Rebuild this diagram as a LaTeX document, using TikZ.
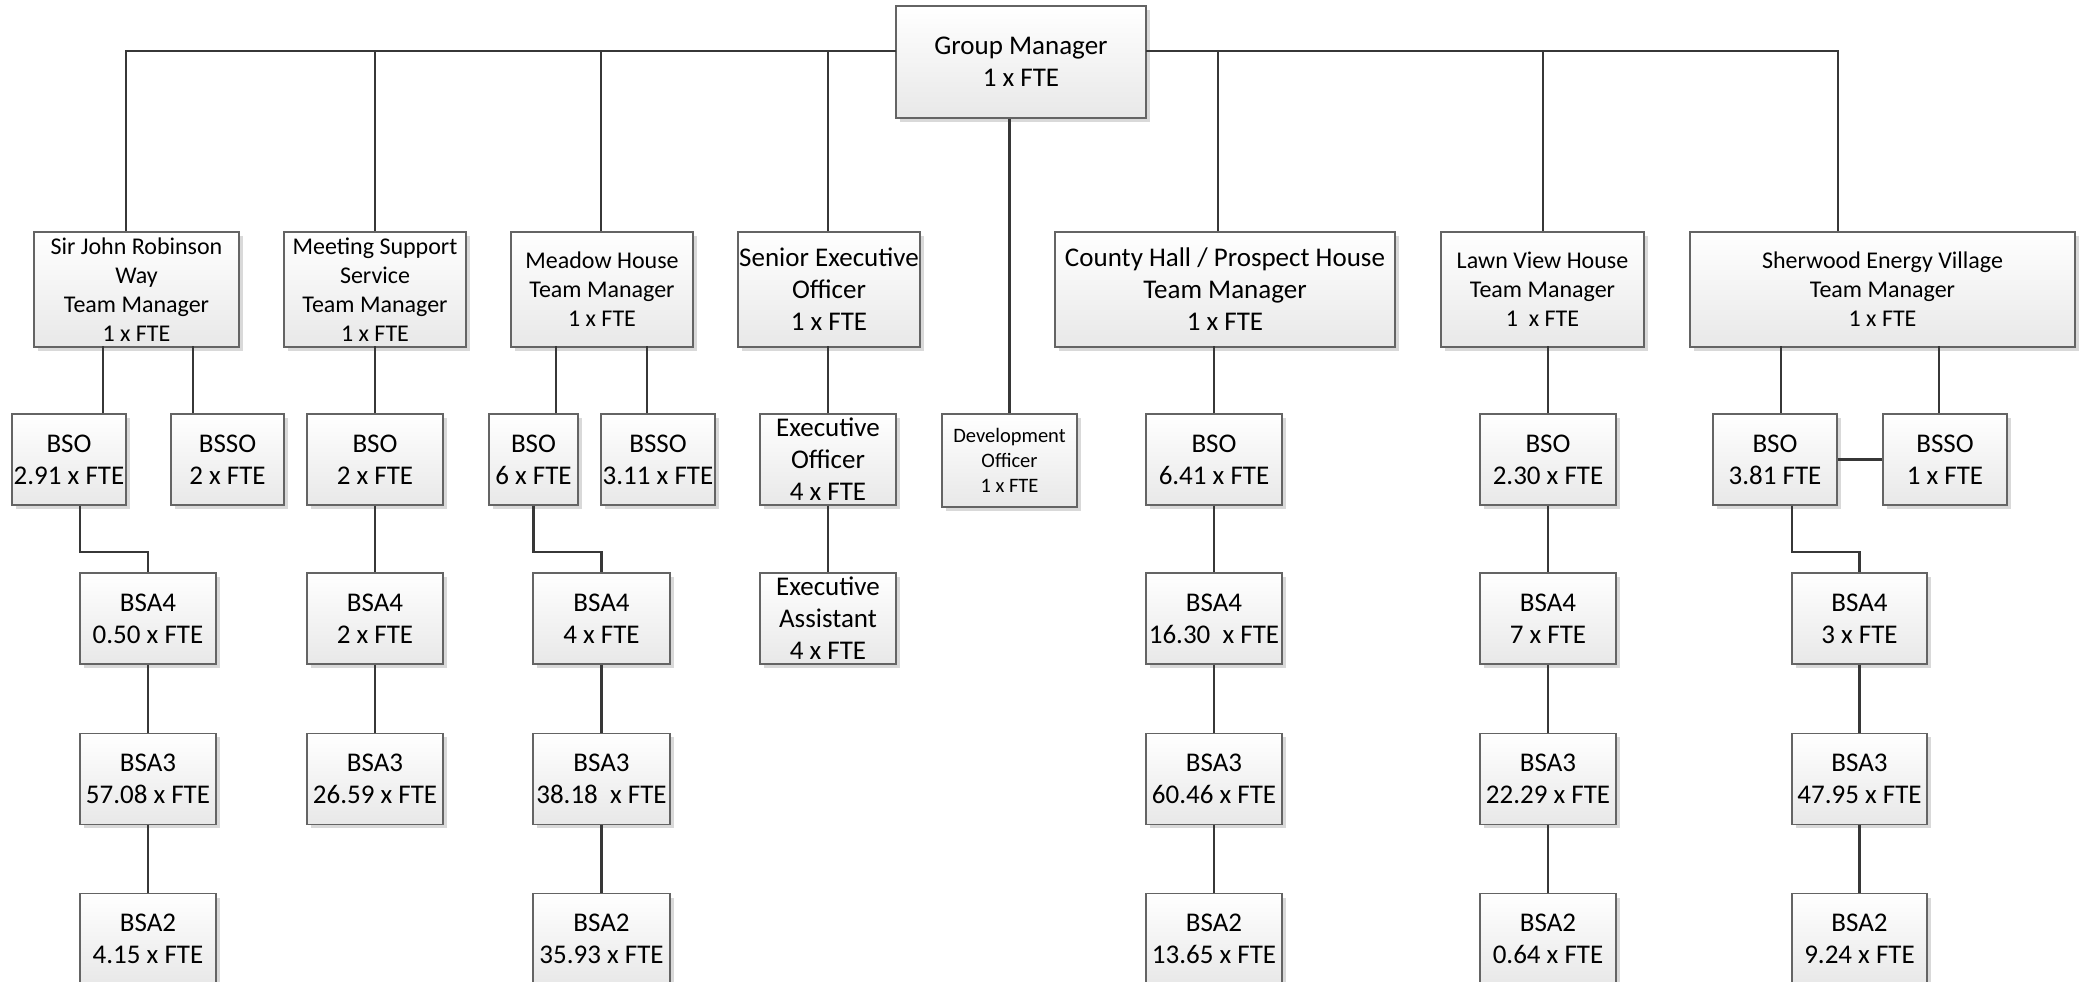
\documentclass[tikz,border=0pt]{standalone}
\usepackage{fontspec}
\setmainfont{Carlito}
\usetikzlibrary{positioning,shadows}
\definecolor{boxline}{RGB}{100,100,100}
\definecolor{linkgray}{RGB}{55,55,55}
\newcommand{\bigtxt}{\fontsize{27}{32}\selectfont}
\newcommand{\midtxt}{\fontsize{24}{29}\selectfont}
\newcommand{\smalltxt}{\fontsize{20.5}{25}\selectfont}

\begin{document}
\begin{tikzpicture}[x=1pt, y=-1pt,
    post/.style={draw=boxline, line width=1.3pt, top color=white, bottom color=black!9,
        align=center, inner sep=0pt, minimum width=#1, minimum height=91pt, font=\bigtxt,
        drop shadow={shadow xshift=4pt, shadow yshift=-4pt, opacity=0.15, fill=black}},
    post/.default=136pt,
    manager/.style={post=#1, minimum height=115pt, font=\midtxt},
    link/.style={draw=linkgray, line width=2.2pt}
]
\useasboundingbox (0,0) rectangle (2083,982);

% Group manager
\node[post=250pt, minimum height=112pt] (gm) at (1021,62) {Group Manager\\1 x FTE};

% Team managers
\node[manager=205pt] (sjw) at (136.5,289.5) {Sir John Robinson\\Way\\Team Manager\\1 x FTE};
\node[manager=182pt] (mss) at (375,289.5) {Meeting Support\\Service\\Team Manager\\1 x FTE};
\node[manager=182pt] (mdh) at (602,289.5) {Meadow House\\Team Manager\\1 x FTE};
\node[manager=182pt, font=\bigtxt] (seo) at (829,289.5) {Senior Executive\\Officer\\1 x FTE};
\node[manager=340pt, font=\bigtxt] (chp) at (1225,289.5) {County Hall / Prospect House\\Team Manager\\1 x FTE};
\node[manager=203pt] (lvh) at (1542.5,289.5) {Lawn View House\\Team Manager\\1~ x FTE};
\node[manager=385pt] (sev) at (1882.5,289.5) {Sherwood Energy Village\\Team Manager\\1 x FTE};

% Officers
\node[post=114pt] (sjbso) at (69,459.5) {BSO\\2.91 x FTE};
\node[post=113pt] (sjbsso) at (227.5,459.5) {BSSO\\2 x FTE};
\node[post] (msbso) at (375,459.5) {BSO\\2 x FTE};
\node[post=89pt] (mdbso) at (533.5,459.5) {BSO\\6 x FTE};
\node[post=114pt] (mdbsso) at (658,459.5) {BSSO\\3.11 x FTE};
\node[post] (exo) at (828,459.5) {Executive\\Officer\\4 x FTE};
\node[post=135pt, minimum height=93pt, font=\smalltxt] (dev) at (1009.5,460.5) {Development\\Officer\\1 x FTE};
\node[post] (chbso) at (1214,459.5) {BSO\\6.41 x FTE};
\node[post] (lvbso) at (1548,459.5) {BSO\\2.30 x FTE};
\node[post=124pt] (sebso) at (1775,459.5) {BSO\\3.81 FTE};
\node[post=124pt] (sebsso) at (1945,459.5) {BSSO\\1 x FTE};

% BSA4 row
\node[post] (sj4) at (148,618.5) {BSA4\\0.50 x FTE};
\node[post] (ms4) at (375,618.5) {BSA4\\2 x FTE};
\node[post=137pt] (md4) at (601.5,618.5) {BSA4\\4 x FTE};
\node[post] (exa) at (828,618.5) {Executive\\Assistant\\4 x FTE};
\node[post] (ch4) at (1214,618.5) {BSA4\\16.30~ x FTE};
\node[post] (lv4) at (1548,618.5) {BSA4\\7 x FTE};
\node[post=135pt] (se4) at (1859.5,618.5) {BSA4\\3 x FTE};

% BSA3 row
\node[post, below=68pt of sj4] (sj3) {BSA3\\57.08 x FTE};
\node[post, below=68pt of ms4] (ms3) {BSA3\\26.59 x FTE};
\node[post=137pt, below=68pt of md4] (md3) {BSA3\\38.18~ x FTE};
\node[post, below=68pt of ch4] (ch3) {BSA3\\60.46 x FTE};
\node[post, below=68pt of lv4] (lv3) {BSA3\\22.29 x FTE};
\node[post=135pt, below=68pt of se4] (se3) {BSA3\\47.95 x FTE};

% BSA2 row
\node[post, below=68pt of sj3] (sj2) {BSA2\\4.15 x FTE};
\node[post=137pt, below=68pt of md3] (md2) {BSA2\\35.93 x FTE};
\node[post, below=68pt of ch3] (ch2) {BSA2\\13.65 x FTE};
\node[post, below=68pt of lv3] (lv2) {BSA2\\0.64 x FTE};
\node[post=135pt, below=68pt of se3] (se2) {BSA2\\9.24 x FTE};

% Lines from group manager
\coordinate (busl) at (896,51);
\coordinate (busr) at (1146,51);
\foreach \t/\s in {sjw/-10.5, mss/0, mdh/-1, seo/-1}
    \draw[link] (busl) -| ([xshift=\s pt]\t.north);
\foreach \t/\s in {chp/-7, lvh/0.5, sev/-44.5}
    \draw[link] (busr) -| ([xshift=\s pt]\t.north);
\draw[link] (dev.north) -- (dev.north |- gm.south);

% Lines to officers
\foreach \c/\s in {sjbso/34, sjbsso/-34.5, msbso/0, mdbso/22.5, mdbsso/-11, exo/0, chbso/0, lvbso/0, sebso/6, sebsso/-6}
    \draw[link] ([xshift=\s pt]\c.north) -- ++(0,-67);
\draw[link] (sebso.east) -- (sebsso.west);

% Lines to assistants
\draw[link] ([xshift=11pt]sjbso.south) -- ++(0,46) -| (sj4.north);
\draw[link] (mdbso.south) -- ++(0,46) -| (md4.north);
\draw[link] ([xshift=17pt]sebso.south) -- ++(0,46) -| (se4.north);
\foreach \a/\b in {msbso/ms4, exo/exa, chbso/ch4, lvbso/lv4, sj4/sj3, sj3/sj2, ms4/ms3, md4/md3, md3/md2, ch4/ch3, ch3/ch2, lv4/lv3, lv3/lv2, se4/se3, se3/se2}
    \draw[link] (\a.south) -- (\b.north);

\end{tikzpicture}
\end{document}
